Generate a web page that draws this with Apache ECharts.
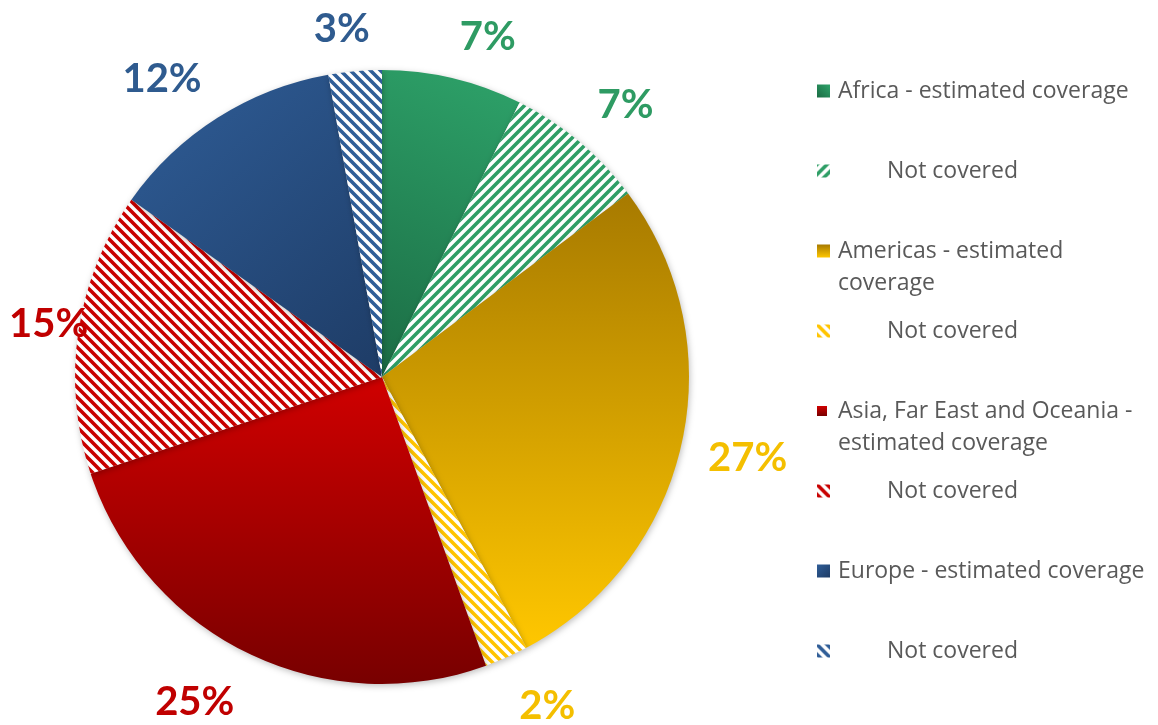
<!DOCTYPE html>
<html>
<head>
<meta charset="utf-8">
<script src="https://cdn.jsdelivr.net/npm/echarts@6/dist/echarts.min.js"></script>
<style>
  html, body { margin: 0; padding: 0; background: #fff; }
  #chart { width: 1158px; height: 725px; }
</style>
</head>
<body>
<div id="chart"></div>
<script>
// slices, clockwise from 12 o'clock
const categories = [
  'Africa - estimated coverage',
  'Africa - not covered',
  'Americas - estimated coverage',
  'Americas - not covered',
  'Asia, Far East and Oceania - estimated coverage',
  'Asia, Far East and Oceania - not covered',
  'Europe - estimated coverage',
  'Europe - not covered'
]
const shares = [7.4, 7.4, 27.4, 2.3, 25.4, 14.9, 12.4, 2.8]
const legendText = [
  'Africa - estimated coverage',
  'Not covered',
  'Americas - estimated\ncoverage',
  'Not covered',
  'Asia, Far East and Oceania -\nestimated coverage',
  'Not covered',
  'Europe - estimated coverage',
  'Not covered'
]

// region colours
const regionColors = [
  { dark: '#1b6c44', light: '#2ea36a', hatch: '#2e9e66', label: '#2e9b63', dir: [0, 1, 1, 0], slash: true },
  { dark: '#a77a00', light: '#ffc700', hatch: '#ffc400', label: '#f4bf00', dir: [0, 0, 0, 1], slash: false },
  { dark: '#d00000', light: '#780000', hatch: '#c80000', label: '#c00000', dir: [0, 0, 0, 1], slash: false },
  { dark: '#2f5d97', light: '#1e3c66', hatch: '#2f5d97', label: '#2f5b8f', dir: [0, 0, 1, 1], slash: false }
]

const CX = 382
const CY = 377
const R = 307
const LABEL_DIST = 331

function hatch(color, slash) {
  const s = 10
  const c = document.createElement('canvas')
  c.width = s
  c.height = s
  const ctx = c.getContext('2d')
  ctx.fillStyle = '#fff'
  ctx.fillRect(0, 0, s, s)
  ctx.strokeStyle = color
  ctx.lineWidth = 3.6
  ctx.beginPath()
  if (slash) {
    ctx.moveTo(-2, s + 2); ctx.lineTo(s + 2, -2)
    ctx.moveTo(-2, 2); ctx.lineTo(2, -2)
    ctx.moveTo(s - 2, s + 2); ctx.lineTo(s + 2, s - 2)
  } else {
    ctx.moveTo(-2, -2); ctx.lineTo(s + 2, s + 2)
    ctx.moveTo(-2, s - 2); ctx.lineTo(2, s + 2)
    ctx.moveTo(s - 2, -2); ctx.lineTo(s + 2, 2)
  }
  ctx.stroke()
  return { image: c, repeat: 'repeat' }
}

const total = shares.reduce((a, b) => a + b, 0)
// mid angle of each slice, radians clockwise from 12 o'clock
const midAngles = []
let acc = 0
shares.forEach(v => {
  midAngles.push((acc + v / 2) / total * Math.PI * 2)
  acc += v
})

const chart = echarts.init(document.getElementById('chart'))

const pieData = categories.map((name, i) => {
  const rc = regionColors[Math.floor(i / 2)]
  const covered = i % 2 === 0
  const d = rc.dir
  return {
    name: name,
    value: shares[i],
    itemStyle: {
      color: covered
        ? new echarts.graphic.LinearGradient(d[0], d[1], d[2], d[3], [
          { offset: 0, color: rc.dark },
          { offset: 1, color: rc.light }
        ])
        : hatch(rc.hatch, rc.slash)
    },
    label: { color: rc.label }
  }
})

const legends = categories.map((name, i) => {
  const twoLine = legendText[i].indexOf('\n') >= 0
  const iconCenter = 91 + i * 80
  const nc = i % 2 === 1
  // empty first line keeps the first text line level with the icon
  const text = (twoLine ? ' \n' : '') + legendText[i]
  return {
    data: [name],
    left: 817,
    top: iconCenter - (twoLine ? 48 : 16),
    padding: 0,
    orient: 'vertical',
    icon: 'rect',
    itemWidth: i === 4 ? 10 : 13,
    itemHeight: i === 4 ? 10 : 13,
    itemGap: 0,
    selectedMode: false,
    formatter: function () { return text },
    textStyle: {
      fontFamily: 'Open Sans',
      fontSize: 23,
      color: '#595959',
      lineHeight: 32,
      padding: [0, 0, 0, nc ? 52 : (i === 4 ? 6 : 3)]
    }
  }
})

const option = {
  animation: false,
  legend: legends,
  series: [
    {
      type: 'pie',
      center: [CX, CY],
      radius: R,
      startAngle: 90,
      clockwise: true,
      avoidLabelOverlap: false,
      data: pieData,
      itemStyle: {
        shadowBlur: 6,
        shadowColor: 'rgba(0,0,0,0.25)',
        shadowOffsetX: 1,
        shadowOffsetY: 2
      },
      label: {
        show: true,
        position: 'outside',
        fontFamily: 'Lato',
        fontWeight: 'bold',
        fontSize: 40,
        formatter: function (p) { return Math.round(p.percent) + '%' }
      },
      labelLine: { show: false, length: 14, length2: 0 },
      // outside-end labels: anchor point slides round the label box with the angle
      labelLayout: function (params) {
        const a = midAngles[params.dataIndex]
        const ux = Math.sin(a)
        const uy = -Math.cos(a)
        const fromVert = Math.acos(Math.abs(uy)) * 180 / Math.PI
        const fromHorz = 90 - fromVert
        const sx = Math.sign(ux) * Math.min(1, fromVert / 14)
        const sy = Math.sign(uy) * Math.min(1, fromHorz / 40)
        const hw = params.labelRect.width / 2 + 3
        const hh = uy > 0 ? 27 : 18
        let x = CX + ux * LABEL_DIST + hw * sx
        const y = CY + uy * LABEL_DIST + hh * sy
        x = Math.max(x, hw + 6)
        return { x: x, y: y, align: 'center', verticalAlign: 'middle' }
      },
      emphasis: { disabled: true }
    }
  ]
}

chart.setOption(option)
window.addEventListener('resize', function () { chart.resize() })
</script>
</body>
</html>
